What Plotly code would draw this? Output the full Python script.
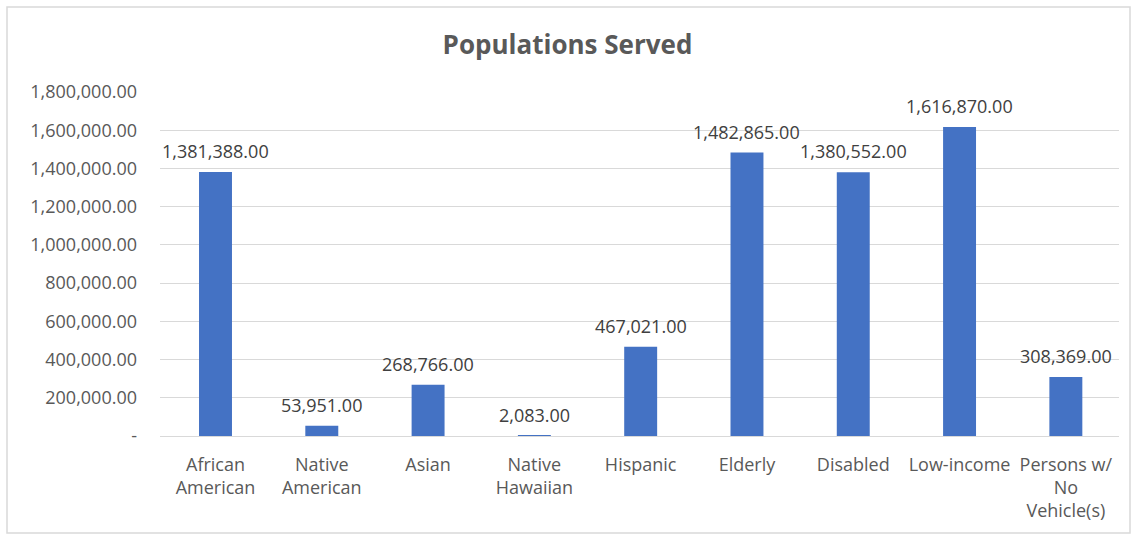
import plotly.graph_objects as go

categories = ["African<br>American", "Native<br>American", "Asian", "Native<br>Hawaiian",
              "Hispanic", "Elderly", "Disabled", "Low-income", "Persons w/<br>No<br>Vehicle(s)"]
values = [1381388, 53951, 268766, 2083, 467021, 1482865, 1380552, 1616870, 308369]
tick_vals = [0, 200000, 400000, 600000, 800000, 1000000, 1200000, 1400000, 1600000, 1800000]
tick_text = [" -"] + [f"{v:,.2f}" for v in tick_vals[1:]]

labels = [f"{v:,.2f}" for v in values]

FONT = "Open Sans"

fig = go.Figure(go.Bar(
    x=categories, y=values,
    marker=dict(color="#4472C4", line=dict(width=0)),
    hoverinfo="skip",
))

W, H = 1135, 535
L, R, T, B = 160, 16, 92, 99
pw, ph = W - L - R, H - T - B

def px_x(p):
    return (p - L) / pw

def px_y(p):
    return (H - B - p) / ph

annotations = [dict(x=c, y=v, xref="x", yref="y", text=t, showarrow=False,
                    yanchor="bottom", yshift=7,
                    font=dict(family=FONT, size=18, color="#404040"))
               for c, v, t in zip(categories, values, labels)]

fig.update_layout(
    width=W, height=H,
    margin=dict(l=L, r=R, t=T, b=B),
    paper_bgcolor="white", plot_bgcolor="white",
    showlegend=False,
    bargap=0.69,
    title=dict(text="<b>Populations Served</b>", x=0.5, xanchor="center",
               y=1 - 45 / H, yanchor="middle", yref="container",
               font=dict(family=FONT, size=26, color="#595959")),
    font=dict(family=FONT, color="#595959"),
    xaxis=dict(showgrid=False, showline=True, linecolor="#D9D9D9", linewidth=1,
               tickfont=dict(family=FONT, size=18, color="#595959"),
               ticks="", ticklabelstandoff=12, fixedrange=True),
    yaxis=dict(range=[0, 1800000], tickvals=tick_vals, ticktext=tick_text,
               showgrid=True, gridcolor="#D9D9D9", gridwidth=1, zeroline=False,
               showline=False, ticks="",
               tickfont=dict(family=FONT, size=18, color="#595959"),
               ticklabelstandoff=22, fixedrange=True),
    annotations=annotations,
    shapes=[dict(type="rect", xref="paper", yref="paper",
                 x0=px_x(7), x1=px_x(1130), y0=px_y(533), y1=px_y(7),
                 line=dict(color="#D9D9D9", width=1.5), fillcolor="rgba(0,0,0,0)", layer="below")],
)

fig.write_html("out.html")
